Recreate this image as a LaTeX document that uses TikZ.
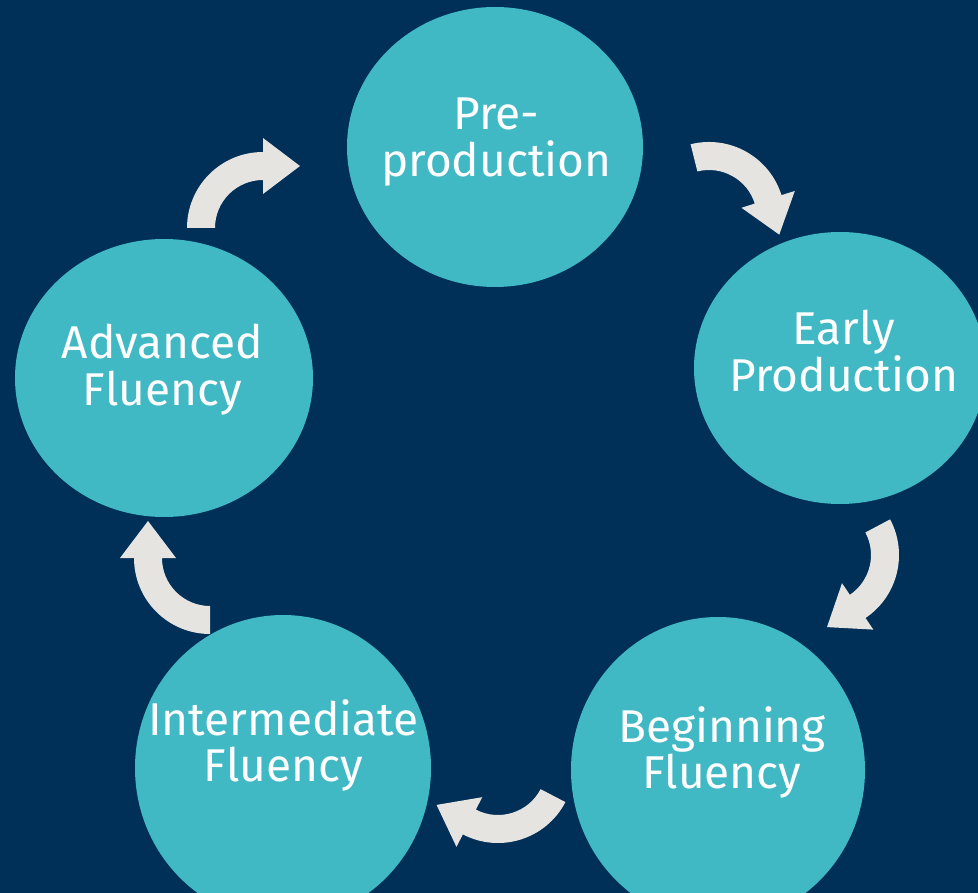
\documentclass[tikz,border=0pt]{standalone}
\usepackage{fontspec}
\setmainfont{Fira Sans}
\usetikzlibrary{calc,shapes.geometric}
\definecolor{bgnavy}{HTML}{002F57}
\definecolor{blobteal}{HTML}{41B9C4}
\definecolor{arrowgray}{HTML}{E6E4E1}
\newcommand\tstrut{\rule{0pt}{35pt}}
\newcommand\bstrut{\rule[-12pt]{0pt}{12pt}}
% #1 centre coordinate, #2 tail angle, #3 head-base angle (image convention, y down)
\newcommand\cyclearrow[3]{%
  \fill[arrowfill] ($(#1)+(#2:76)$) arc[start angle=#2, end angle=#3, radius=76]
    -- ($(#1)+(#3:90)$)
    -- ($(#1)+(#3:62)+({#3+90}:37)$)
    -- ($(#1)+(#3:34)$)
    -- ($(#1)+(#3:48)$) arc[start angle=#3, end angle=#2, radius=48]
    -- cycle;}
\tikzset{
  blob/.style={ellipse, fill=blobteal, draw=none, inner sep=0pt},
  lbl/.style={text=white, font=\fontsize{46}{46.5}\selectfont, align=center, inner sep=0pt},
  arrowfill/.style={fill=arrowgray, draw=none},
}
\begin{document}
\begin{tikzpicture}[x=1pt, y=-1pt]
  \useasboundingbox (0,0) rectangle (978,893);
  \clip (0,0) rectangle (978,893);
  \fill[bgnavy] (0,0) rectangle (978,893);

  \node[blob, minimum width=296pt, minimum height=280pt] (b1) at (495,147) {};
  \node[blob, minimum width=292pt, minimum height=272pt] (b2) at (840,368) {};
  \node[blob, minimum width=294pt, minimum height=306pt] (b3) at (718,770) {};
  \node[blob, minimum width=296pt, minimum height=306pt] (b4) at (283,768) {};
  \node[blob, minimum width=298pt, minimum height=278pt] (b5) at (164,378) {};

  \node[lbl] (t1) at (496.5,141.75) {\tstrut Pre-\\production\bstrut};
  \node[lbl] (t2) at (844,356.75) {\tstrut Early\\Production\bstrut};
  \node[lbl] (t3) at (722,753.75) {\tstrut Beginning\\Fluency\bstrut};
  \node[lbl] (t4) at (283.5,746.75) {\tstrut Intermediate\\Fluency\bstrut};
  \node[lbl] (t5) at (162.5,370.75) {\tstrut Advanced\\Fluency\bstrut};

  \coordinate (a1) at (709,218);
  \coordinate (a2) at (823,555);
  \coordinate (a3) at (498,767);
  \coordinate (a4) at (210,558);
  \coordinate (a5) at (263,228);
  \cyclearrow{a1}{-104}{-17.5}
  \cyclearrow{a2}{-28}{56}
  \cyclearrow{a3}{27.5}{117.5}
  \cyclearrow{a4}{90}{180}
  \cyclearrow{a5}{180}{270}
\end{tikzpicture}
\end{document}
